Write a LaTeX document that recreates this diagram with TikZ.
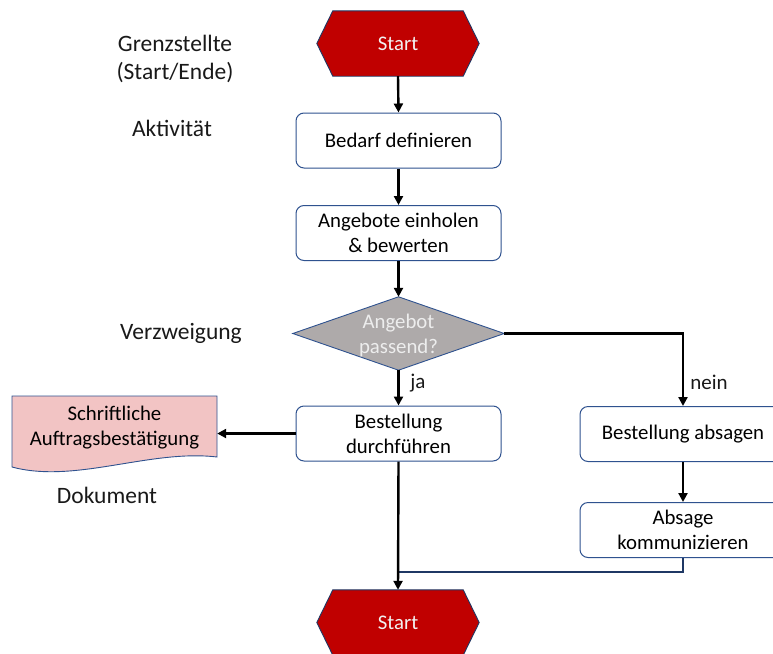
\documentclass[tikz,border=0pt]{standalone}
\usepackage{fontspec}
\setmainfont{Carlito}
\usetikzlibrary{calc,arrows.meta}
\definecolor{edge}{HTML}{2F528F}
\definecolor{navy}{HTML}{1F3864}
\definecolor{termred}{HTML}{C00000}
\definecolor{decgray}{HTML}{AEAAAA}
\definecolor{docpink}{HTML}{F2C4C4}
\tikzset{
  boxtext/.style={font=\fontsize{20.8}{25}\selectfont, align=center},
  labeltext/.style={font=\fontsize{23.5}{28}\selectfont, align=center, text=black!90},
  activity/.style={boxtext, draw=edge, line width=1pt, fill=white, rounded corners=8pt,
    minimum width=205pt, minimum height=55pt, inner sep=0pt},
  ghost/.style={boxtext, inner sep=0pt},
  flow/.style={line width=2.4pt, -{Triangle[length=9pt,width=9pt]}},
  outline/.style={draw=edge, line width=0.9pt},
  branchlabel/.style={labeltext, font=\fontsize{21}{25}\selectfont},
}
\begin{document}
\begin{tikzpicture}[x=1pt,y=-1pt]
\useasboundingbox (0,0) rectangle (773,653);
\clip (0,0) rectangle (773,653);

% terminals (hexagons)
\node[ghost, minimum width=162pt, minimum height=65pt] (start) at (398,43.5) {};
\node[ghost, minimum width=162pt, minimum height=65pt] (end) at (398,622.5) {};
\foreach \t in {start,end}{
  \filldraw[fill=termred, draw=navy, line width=0.9pt] (\t.west) -- ($(\t.north west)+(16,0)$)
    -- ($(\t.north east)+(-16,0)$) -- (\t.east) -- ($(\t.south east)+(-16,0)$)
    -- ($(\t.south west)+(16,0)$) -- cycle;
  \node[ghost, text=white!95!black] at (\t) {Start};
}

% activities
\node[activity] (bedarf) at (398.5,140.5) {Bedarf definieren};
\node[activity] (angebote) at (398.5,233) {Angebote einholen\\\& bewerten};
\node[activity] (bestellung) at (398.5,433.5) {Bestellung\\durchführen};
\node[activity, minimum width=206pt] (absagen) at (683,434) {Bestellung absagen};
\node[activity, minimum width=206pt] (absage) at (683,530) {Absage\\kommunizieren};

% decision
\node[ghost, minimum width=211pt, minimum height=73pt] (dia) at (398.5,333.5) {};
\draw[outline, fill=decgray] (dia.west) -- (dia.north) -- (dia.east) -- (dia.south) -- cycle;
\node[ghost, text=white!93!black] at (398.5,335) {Angebot\\passend?};

% document
\node[ghost, minimum width=205pt, minimum height=50pt] (doc) at (114.5,433.5) {};
\draw[outline, fill=docpink] (12,396) -- (217,396) -- (217,457)
  .. controls (150,449) and (75,484) .. (12,467) -- cycle;
\node[ghost] at (114.5,427.5) {Schriftliche\\Auftragsbestätigung};

% legend labels
\node[labeltext] (lgrenz) at (175,59) {Grenzstellte\\(Start/Ende)};
\node[labeltext] (lakt) at (172,128) {Aktivität};
\node[labeltext] (lverz) at (181,333) {Verzweigung};
\node[labeltext] (ldok) at (107,495) {Dokument};

% connectors
\draw[flow] (start.south) -- (bedarf.north);
\draw[flow] (bedarf.south) -- (angebote.north);
\draw[flow] (angebote.south) -- (dia.north);
\draw[flow] (dia.south) -- (bestellung.north);
\node[branchlabel] (ja) at (418,383) {ja};
\draw[flow] (dia.east) -| (absagen.north);
\node[branchlabel] (nein) at (709,382) {nein};
\draw[flow] (absagen.south) -- (absage.north);
\draw[flow] (bestellung.west) -- (doc.east);
\coordinate (join) at (398,572);
\draw[navy, line width=2pt] (absage.south) |- (join);
\draw[flow] (bestellung.south) -- (end.north);
\end{tikzpicture}
\end{document}
